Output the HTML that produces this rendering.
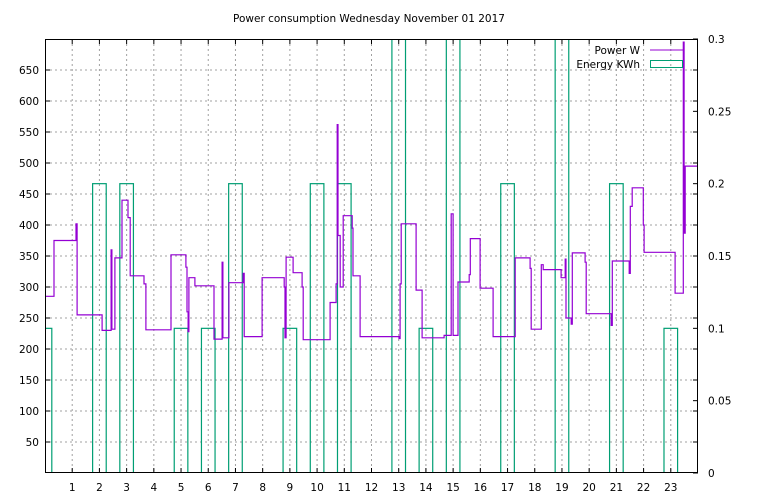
<!DOCTYPE html>
<html><head><meta charset="utf-8"><style>
html,body{margin:0;padding:0;background:#fff}
svg{display:block}
text{font-family:"DejaVu Sans","Liberation Sans",sans-serif;font-size:10.5px;fill:#000}
</style></head><body>
<svg id="chart" width="768" height="500" xmlns="http://www.w3.org/2000/svg">
<defs><clipPath id="clip"><rect x="45" y="39" width="653" height="434"/></clipPath></defs>
<rect x="0" y="0" width="768" height="500" fill="#fff"/>
<text x="369" y="22" text-anchor="middle">Power consumption Wednesday November 01 2017</text>
<g id="grid"></g>
<g id="energy" clip-path="url(#clip)"></g>
<g id="power" clip-path="url(#clip)"></g>
<g id="axes"></g>
<g>
<text x="640" y="54" text-anchor="end">Power W</text>
<line x1="650" y1="50" x2="683" y2="50" stroke="#9400d3" stroke-width="1"/>
<text x="640" y="68" text-anchor="end">Energy KWh</text>
<rect x="650.5" y="60.5" width="32" height="7" fill="none" stroke="#009e73" stroke-width="1"/>
</g>
</svg>
<script>
const hourTicks=[1,2,3,4,5,6,7,8,9,10,11,12,13,14,15,16,17,18,19,20,21,22,23];
const wattTicks=[50,100,150,200,250,300,350,400,450,500,550,600,650];
const kwhTicks=[0,0.05,0.1,0.15,0.2,0.25,0.3];
const kwhTickLabels=["0","0.05","0.1","0.15","0.2","0.25","0.3"];
const energyHours=[0,1,2,3,4,5,6,7,8,9,10,11,12,13,14,15,16,17,18,19,20,21,22,23];
const energyKwh=[0.1,0,0.2,0.2,0,0.1,0.1,0.2,0,0.1,0.2,0.2,0,0.4,0.1,0.4,0,0.2,0,0.4,0,0.2,0,0.1];
const powerTimes=[0,0.33,1.14,1.18,2.10,2.43,2.46,2.57,2.83,3.05,3.13,3.64,3.71,4.63,5.18,5.22,5.26,5.29,5.51,6.21,6.51,6.54,6.76,7.28,7.32,7.98,8.79,8.82,8.86,9.12,9.45,9.49,10.48,10.70,10.74,10.77,10.85,10.96,11.29,11.32,11.58,13.01,13.05,13.09,13.64,13.86,14.67,14.93,15.00,15.18,15.59,15.63,15.99,16.47,17.28,17.83,17.87,18.24,18.31,18.97,19.12,19.15,19.34,19.38,19.85,19.89,20.81,20.85,21.47,21.51,21.58,21.99,22.02,23.16,23.46,23.49,23.53,24];
const powerWatts=[285,375,402,255,230,360,232,347,440,412,318,305,231,352,332,260,228,315,302,216,340,218,307,322,220,315,300,218,348,323,300,215,275,305,562,383,300,415,395,318,220,217,305,402,295,218,222,418,222,308,320,378,298,220,347,330,232,336,328,315,345,250,240,355,340,257,238,342,322,430,460,400,356,290,695,387,495,495];

const L=45,R=698,T=39,B=473;
const x=h=>L+h*(R-L)/24;
const y=w=>B-w*(B-T)/700;
const y2=k=>B-k*(B-T)/0.3;
const NS="http://www.w3.org/2000/svg";
function mk(tag,attrs,parent){const e=document.createElementNS(NS,tag);for(const k in attrs)e.setAttribute(k,attrs[k]);parent.appendChild(e);return e;}
const grid=document.getElementById('grid'),axes=document.getElementById('axes');
hourTicks.forEach(h=>{
  const g=mk('line',{x1:x(h),y1:T,x2:x(h),y2:B,stroke:'#a0a0a0','stroke-dasharray':'2,3','stroke-width':1},grid);
  
  
  const t=mk('line',{x1:x(h),y1:B,x2:x(h),y2:B-5,stroke:'#000'},axes);
  
  
  const t2=mk('line',{x1:x(h),y1:T,x2:x(h),y2:T+5,stroke:'#000'},axes);
  
  
  const lb=mk('text',{x:x(h),y:491,'text-anchor':'middle'},axes);lb.textContent=h;
  
  
});
wattTicks.forEach(w=>{
  const g=mk('line',{x1:L,y1:y(w),x2:R,y2:y(w),stroke:'#a0a0a0','stroke-dasharray':'2,3','stroke-width':1},grid);
  
  
  const t=mk('line',{x1:L,y1:y(w),x2:L+5,y2:y(w),stroke:'#000'},axes);
  
  
  const t2=mk('line',{x1:R,y1:y(w),x2:R-5,y2:y(w),stroke:'#000'},axes);
  
  
  const lb=mk('text',{x:39,y:y(w)+4,'text-anchor':'end'},axes);lb.textContent=w;
  
  
});
kwhTicks.forEach((k,i)=>{
  const t=mk('line',{x1:R,y1:y2(k),x2:R-5,y2:y2(k),stroke:'#000'},axes);
  
  
  const lb=mk('text',{x:708,y:y2(k)+4,'text-anchor':'start'},axes);lb.textContent=kwhTickLabels[i];
  
  
});
const border=mk('rect',{x:L+0.5,y:T+0.5,width:R-L-1,height:B-T-1,fill:'none',stroke:'#000','stroke-width':1},axes);



const eg=document.getElementById('energy');
energyHours.forEach((h,i)=>{
  const v=energyKwh[i];
  if(v<=0)return;
  const r=mk('rect',{x:x(h-0.25),y:y2(v),width:x(h+0.25)-x(h-0.25),height:B-y2(v)+2,fill:'none',stroke:'#009e73','stroke-width':1.2},eg);
  
  
});
let d='';
for(let i=0;i<powerTimes.length;i++){
  const px=x(powerTimes[i]).toFixed(1),py=y(powerWatts[i]).toFixed(1);
  if(i===0)d+='M'+px+','+py;
  else{d+=' L'+px+','+y(powerWatts[i-1]).toFixed(1)+' L'+px+','+py;}
}
const p=mk('path',{d:d,fill:'none',stroke:'#9400d3','stroke-width':1.2},document.getElementById('power'));


</script>
</body></html>
